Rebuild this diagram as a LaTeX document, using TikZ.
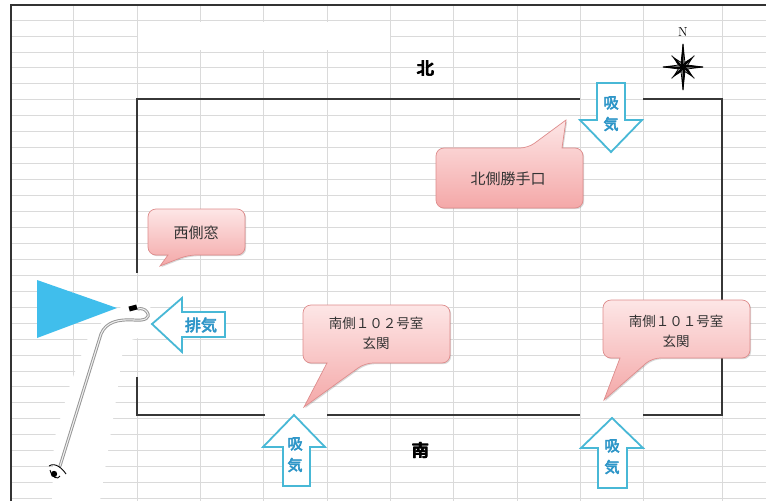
\documentclass[tikz,border=0pt]{standalone}
\usepackage{fontspec}
\newfontfamily\jp{Noto Sans CJK JP}
\newfontfamily\jpb[FakeBold=4]{Noto Sans CJK JP}
\newcommand\heavytext[1]{\rlap{\kern0.6pt #1}#1}
\usetikzlibrary{shadows}
\definecolor{gridc}{RGB}{218,218,218}
\definecolor{wall}{RGB}{55,55,55}
\definecolor{vent}{RGB}{72,184,214}
\definecolor{venttext}{RGB}{46,150,200}
\definecolor{fan}{RGB}{64,190,236}
\definecolor{calltop}{RGB}{253,230,230}
\definecolor{callbot}{RGB}{244,168,168}
\definecolor{callline}{RGB}{222,140,140}
\definecolor{hose}{RGB}{150,150,150}

\begin{document}
\begin{tikzpicture}[x=1pt,y=-1pt,
  gridline/.style={gridc, line width=0.8pt},
  wallline/.style={wall, line width=2.2pt},
  ventarrow/.style={draw=vent, fill=white, line width=1.8pt, line join=miter},
  venttxt/.style={text=venttext, font=\jpb\fontsize{15}{17}\selectfont, inner sep=0pt},
  callout/.style={draw=callline, line width=0.7pt, top color=calltop, bottom color=callbot,
    drop shadow={opacity=0.25, shadow xshift=1.2pt, shadow yshift=-1.2pt, fill=black!60}},
  calltxt/.style={text=black!80, font=\jp\fontsize{15}{20}\selectfont, align=center, inner sep=0pt},
  calltxtsm/.style={calltxt, font=\jp\fontsize{13.5}{20}\selectfont},
  dirtxt/.style={font=\jpb\fontsize{17}{19}\selectfont, inner sep=0pt},
]
\useasboundingbox (0,0) rectangle (766,501);
\fill[white] (0,0) rectangle (766,501);

% spreadsheet cell grid
\foreach \gx in {73,137,200,263,327,390,453,517,580,643,722}
  \draw[gridline] (\gx,5) -- (\gx,501);
\foreach \i in {0,...,30}
  \draw[gridline] (11,20+\i*15.95) -- (766,20+\i*15.95);
\fill[white] (138,22) rectangle (390,50);

% sheet frame
\draw[black!80, line width=1.2pt] (11,501) -- (11,5) -- (766,5);

% white backdrop of the hose photo
\fill[white] (52,501) -- (54,440) -- (70,385) -- (88,338) -- (106,318) -- (128,302)
  -- (150,303) -- (152,334) -- (124,342) -- (116,400) -- (100,501) -- cycle;

% building outline with openings
\draw[wallline] (580,99) -- (137,99) -- (137,273);
\draw[wallline] (643,99) -- (722,99) -- (722,415) -- (643,415);
\draw[wallline] (580,415) -- (327,415);
\draw[wallline] (265,415) -- (137,415) -- (137,377);

% direction labels
\node[dirtxt] (north) at (425,68) {\heavytext{北}};
\node[dirtxt] (south) at (420,450) {\heavytext{南}};

% compass rose
\node[font=\fontsize{13}{14}\selectfont, inner sep=0pt] (nlabel) at (683,32) {N};
\begin{scope}[shift={(683,67)}]
  \foreach \a/\r in {45/13,135/13,225/13,315/13,0/20,90/23,180/20,270/23} {
    \filldraw[fill=white, draw=black, line width=0.8pt] (0,0) -- (\a:\r) -- (\a+22.5:5) -- cycle;
    \filldraw[fill=black, draw=black, line width=0.8pt] (0,0) -- (\a:\r) -- (\a-22.5:5) -- cycle;
  }
\end{scope}

% fan
\fill[fan] (37,280) -- (117,308) -- (37,338) -- cycle;

% hose with nozzle
\draw[hose, line width=3pt, line cap=round]
  (60,466) -- (101,334) .. controls (106,322) and (118,319) .. (134,320)
  .. controls (145,321) and (151,318) .. (147,312) .. controls (145,309) and (141,308) .. (138,309);
\draw[white!85!hose, line width=1.1pt, line cap=round]
  (60,466) -- (101,334) .. controls (106,322) and (118,319) .. (134,320)
  .. controls (145,321) and (151,318) .. (147,312) .. controls (145,309) and (141,308) .. (138,309);
\fill[black, rotate around={15:(133,308)}] (129,305.5) rectangle (137,310.5);
\fill[black] (54,474) circle (3.2);
\draw[black, line width=0.9pt] (49,466) .. controls (55,462) and (62,468) .. (66,474);
\draw[black, line width=0.9pt] (50,470) .. controls (52,478) and (58,480) .. (60,476);

% ventilation arrows
\draw[ventarrow] (597,83) -- (625,83) -- (625,120) -- (642,120) -- (611,152) -- (580,120) -- (597,120) -- cycle;
\node[venttxt] (in1a) at (611,103) {吸};
\node[venttxt] (in1b) at (611,124) {気};

\draw[ventarrow] (294,415) -- (325,447) -- (310,447) -- (310,486) -- (283,486) -- (283,447) -- (263,447) -- cycle;
\node[venttxt] (in2a) at (295,444) {吸};
\node[venttxt] (in2b) at (295,465) {気};

\draw[ventarrow] (612,418) -- (643,448) -- (627,448) -- (627,488) -- (598,488) -- (598,448) -- (581,448) -- cycle;
\node[venttxt] (in3a) at (612,446) {吸};
\node[venttxt] (in3b) at (612,467) {気};

\draw[ventarrow] (152,324) -- (182,298) -- (182,312) -- (225,312) -- (225,337) -- (182,337) -- (182,352) -- cycle;
\node[venttxt, font=\jpb\fontsize{16}{18}\selectfont] (out) at (201,325) {排気};

% callouts
\path[callout] (436,178) [rounded corners=8pt] -- (436,148) -- (528,148) [sharp corners] -- (566,120)
  -- (562,148) [rounded corners=8pt] -- (583,148) -- (583,208) -- (436,208) -- cycle;
\node[calltxt] (kitchen) at (508,179) {北側勝手口};

\path[callout] (148,232) [rounded corners=8pt] -- (148,209) -- (245,209) -- (245,255) -- (188,255)
  [sharp corners] -- (160,266) -- (168,255) [rounded corners=8pt] -- (148,255) -- cycle;
\node[calltxt] (window) at (196,233) {西側窓};

\path[callout] (303,334) [rounded corners=8pt] -- (303,305) -- (450,305) -- (450,363) -- (365,363)
  [sharp corners] -- (304,407) -- (327,363) [rounded corners=8pt] -- (303,363) -- cycle;
\node[calltxtsm] (room102) at (376,333) {南側１０２号室\\玄関};

\path[callout] (603,329) [rounded corners=8pt] -- (603,300) -- (750,300) -- (750,358) -- (652,358)
  [sharp corners] -- (604,400) -- (620,358) [rounded corners=8pt] -- (603,358) -- cycle;
\node[calltxtsm] (room101) at (676,331) {南側１０１号室\\玄関};

\end{tikzpicture}
\end{document}
